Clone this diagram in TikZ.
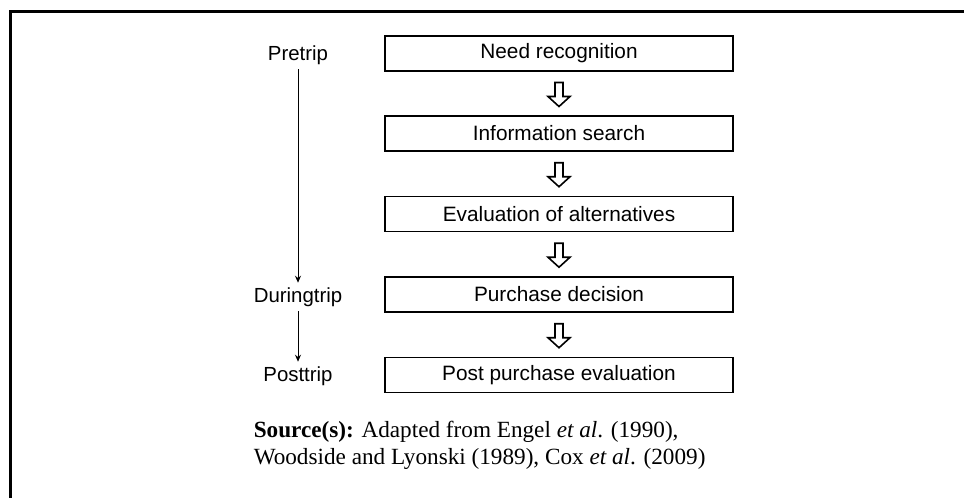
\documentclass[tikz,border=0pt]{standalone}
\usepackage{fontspec}
\setmainfont{Liberation Serif}
\newfontfamily\stagefont{Liberation Sans}
\usetikzlibrary{arrows.meta, calc}

\begin{document}
\begin{tikzpicture}[x=0.5pt, y=-0.5pt, line width=0.75pt,
    stagebox/.style={draw, minimum width=174pt, minimum height=17.5pt, inner sep=0pt,
      font=\stagefont\fontsize{10.4}{12}\selectfont},
    triplabel/.style={inner sep=2pt, font=\stagefont\fontsize{10.2}{12}\selectfont}]
    \useasboundingbox (0,0) rectangle (964,498);

    % draw outer frame (open at right and bottom)
    \draw[color=black, line width=1.5pt] (964,11) -- (10,11) -- (10,498);

    % draw decision stages
    \node[stagebox] (need)  at (559,53.5)  {Need recognition};
    \node[stagebox] (info)  at (559,133.5) {Information search};
    \node[stagebox] (eval)  at (559,214)   {Evaluation of alternatives};
    \node[stagebox] (purch) at (559,294.5) {Purchase decision};
    \node[stagebox] (post)  at (559,375)   {Post purchase evaluation};

    % draw hollow arrows between stages
    \foreach \a/\b in {need/info, info/eval, eval/purch, purch/post} {
      \coordinate (m) at ($(\a.south)!0.5!(\b.north)$);
      \draw[line width=0.8pt, shift={(m)}]
        (-4,-11) -- (4,-11) -- (4,3) -- (11,3) -- (0,13) -- (-11,3) -- (-4,3) -- cycle;
    }

    % draw trip phases
    \node[triplabel] (pre)    at (298,55)  {Pretrip};
    \node[triplabel] (during) at (298,297) {Duringtrip};
    \node[triplabel] (postt)  at (298,376) {Posttrip};
    \draw[line width=0.5pt, -{Stealth[length=3.5pt, width=3pt]}] (pre) -- (during);
    \draw[line width=0.5pt, -{Stealth[length=3.5pt, width=3pt]}] (during) -- (postt);

    % source note
    \node[anchor=north west, align=left, inner sep=0pt, font=\fontsize{11.6}{13.6}\selectfont] (source) at (253,420)
      {\textbf{Source(s):} Adapted from Engel \textit{et al}. (1990),\\
       Woodside and Lyonski (1989), Cox \textit{et al}. (2009)};
\end{tikzpicture}
\end{document}
